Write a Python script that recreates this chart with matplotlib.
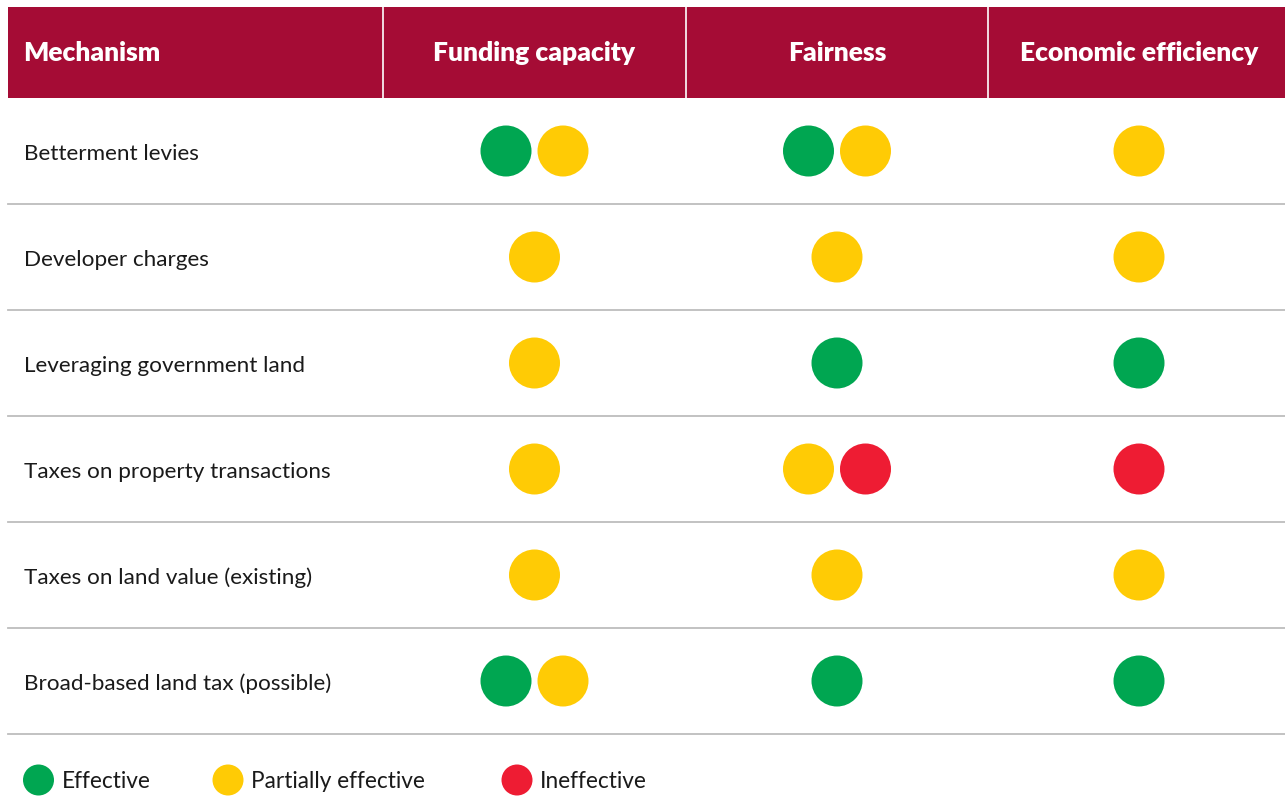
import matplotlib
matplotlib.use('Agg')
import matplotlib.pyplot as plt
from matplotlib.patches import Rectangle, Circle

plt.rcParams['font.family'] = ['Lato', 'DejaVu Sans']

mechanisms = [
    "Betterment levies",
    "Developer charges",
    "Leveraging government land",
    "Taxes on property transactions",
    "Taxes on land value (existing)",
    "Broad-based land tax (possible)",
]
criteria = ["Funding capacity", "Fairness", "Economic efficiency"]

# E = effective, P = partially effective, I = ineffective
funding = [["E", "P"], ["P"], ["P"], ["P"], ["P"], ["E", "P"]]
fairness = [["E", "P"], ["P"], ["E"], ["P", "I"], ["P"], ["E"]]
efficiency = [["P"], ["P"], ["E"], ["I"], ["P"], ["E"]]

legend_keys = ["E", "P", "I"]
legend_labels = ["Effective", "Partially effective", "Ineffective"]

colors = {"E": "#00A651", "P": "#FFCB05", "I": "#EE1C33"}
header_col = "#A50C35"
line_col = "#BDBDBD"

W, H = 1285, 798
fig = plt.figure(figsize=(W / 100, H / 100), dpi=100)
ax = fig.add_axes([0, 0, 1, 1])
ax.set_xlim(0, W)
ax.set_ylim(H, 0)
ax.axis('off')

left, right = 8, W
head_top, head_bot = 7, 98
col_edges = [left, 383, 686, 988, right]
row_h = 106
r = 25.5
gap = 57

# header
ax.add_patch(Rectangle((left, head_top), right - left, head_bot - head_top,
                       color=header_col, lw=0))
for x in col_edges[1:-1]:
    ax.plot([x, x], [head_top, head_bot], color='white', lw=1.2)
ax.text(23, 61, "Mechanism", color='white', fontsize=19, fontweight='heavy',
        ha='left', va='baseline')
col_centers = [(col_edges[i] + col_edges[i + 1]) / 2 for i in range(1, 4)]
col_centers[2] = 1139
for cx, name in zip(col_centers, criteria):
    ax.text(cx, 61, name, color='white', fontsize=19, fontweight='heavy',
            ha='center', va='baseline')

# rows
cols = [funding, fairness, efficiency]
for i, mech in enumerate(mechanisms):
    cy = head_bot + row_h * i + row_h / 2
    ax.text(24, cy + 9, mech, fontsize=16.2, color='#1a1a1a', ha='left', va='baseline')
    for cx, col in zip(col_centers, cols):
        marks = col[i]
        n = len(marks)
        for k, m in enumerate(marks):
            x = cx + (k - (n - 1) / 2) * gap
            ax.add_patch(Circle((x, cy), r, color=colors[m], lw=0))
    yl = head_bot + row_h * (i + 1)
    ax.plot([left, right], [yl, yl], color=line_col, lw=1.3)

# legend (pulled up a little so the labels stay inside the image)
leg_x = [38.5, 228, 517]
for x, key, lab in zip(leg_x, legend_keys, legend_labels):
    ax.add_patch(Circle((x, 780), 15.5, color=colors[key], lw=0))
    ax.text(x + 23, 788, lab, fontsize=16.3, color='#1a1a1a', ha='left', va='baseline')

fig.savefig('out.png', dpi=100)
